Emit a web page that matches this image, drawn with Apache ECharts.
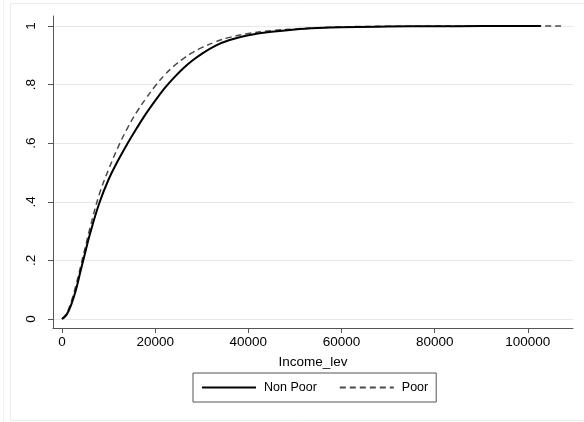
<!DOCTYPE html>
<html>
<head>
<meta charset="utf-8">
<script src="https://cdn.jsdelivr.net/npm/echarts@6/dist/echarts.min.js"></script>
<style>
html,body{margin:0;padding:0;background:#fff;}
#chart{width:584px;height:422px;}
</style>
</head>
<body>
<div id="chart"></div>
<script>
// ---- data ----
var seriesNames = ['Non Poor', 'Poor'];
var incomeNonPoor = [0, 1000, 2000, 3000, 4000, 5000, 6000, 8000, 10000, 12000, 14000, 16000, 18000, 20000, 22000, 24000, 26000, 28000, 30000, 33000, 36000, 40000, 45000, 50000, 55000, 60000, 70000, 80000, 90000, 102800];
var cdfNonPoor    = [0, 0.015, 0.05, 0.10, 0.165, 0.228, 0.29, 0.395, 0.476, 0.54, 0.597, 0.65, 0.70, 0.745, 0.787, 0.823, 0.855, 0.882, 0.905, 0.933, 0.952, 0.968, 0.98, 0.988, 0.993, 0.996, 0.998, 0.999, 0.9995, 1];
var incomePoor    = [0, 1000, 2000, 3000, 4000, 5000, 6000, 8000, 10000, 12000, 14000, 16000, 18000, 20000, 22000, 24000, 26000, 28000, 30000, 33000, 36000, 40000, 45000, 50000, 55000, 60000, 70000, 80000, 90000, 108000];
var cdfPoor       = [0, 0.02, 0.06, 0.115, 0.18, 0.245, 0.31, 0.425, 0.51, 0.585, 0.65, 0.705, 0.752, 0.795, 0.832, 0.863, 0.888, 0.909, 0.926, 0.946, 0.961, 0.974, 0.984, 0.99, 0.994, 0.997, 0.999, 0.9995, 0.9998, 1];
var xTicks = [0, 20000, 40000, 60000, 80000, 100000];
var yTicks = [0, 0.2, 0.4, 0.6, 0.8, 1];
var xTitle = 'Income_lev';

function pairs(xs, ys){ return xs.map(function(x,i){ return [x, ys[i]]; }); }

var FONT = '"Liberation Sans", Arial, Helvetica, sans-serif';
var chart = echarts.init(document.getElementById('chart'), null, {renderer:'canvas'});
chart.setOption({
  animation: false,
  backgroundColor: '#fff',
  textStyle: {fontFamily: FONT},
  graphic: [
    {type:'rect', shape:{x:10.5, y:3.5, width:600, height:417}, style:{fill:'none', stroke:'#ececec', lineWidth:1}, silent:true},
    {type:'line', shape:{x1:3.5, y1:0, x2:3.5, y2:422}, style:{stroke:'#f2f2f2', lineWidth:1}, silent:true}
  ],
  grid: {left: 53, right: 11, top: 16, bottom: 94, containLabel: false},
  xAxis: {
    type: 'value',
    min: -1930, max: 109700,
    name: xTitle, nameLocation: 'middle', nameGap: 27,
    nameTextStyle: {color:'#000', fontSize: 13.5, fontFamily: FONT},
    axisLine: {show:true, onZero:false, lineStyle:{color:'#555', width:1}},
    axisTick: {show:true, length:5, customValues: xTicks, lineStyle:{color:'#555'}},
    axisLabel: {customValues: xTicks, color:'#000', fontSize: 13.5, margin: 7, fontFamily: FONT,
      formatter: function(v){ return String(v); }},
    splitLine: {show:false}
  },
  yAxis: {
    type: 'value',
    min: -0.0307, max: 1.034,
    axisLine: {show:true, onZero:false, lineStyle:{color:'#555', width:1}},
    axisTick: {show:true, length:5, customValues: yTicks, lineStyle:{color:'#555'}},
    axisLabel: {customValues: yTicks, color:'#000', fontSize: 13.5, margin: 15, rotate: 90, fontFamily: FONT,
      formatter: function(v){ if (v === 0) return '0'; if (v === 1) return '1'; return String(+v.toFixed(1)).replace(/^0/, ''); }},
    splitLine: {show:true, lineStyle:{color:'#e8e8e8', width:1}}
  },
  legend: {
    left: 193, top: 373,
    orient: 'horizontal',
    padding: [8, 8, 8, 8],
    itemWidth: 54, itemHeight: 14, itemGap: 22,
    borderColor: '#555', borderWidth: 1,
    itemStyle: {opacity: 0},
    textStyle: {color:'#000', fontSize: 12.5, fontFamily: FONT, padding:[0,0,0,3]},
    data: seriesNames
  },
  series: [
    {
      name: seriesNames[0], type: 'line', showSymbol: false, symbol: 'none',
      smooth: 0.4,
      lineStyle: {color:'#000', width:2, type:'solid'},
      itemStyle: {color:'#000'},
      data: pairs(incomeNonPoor, cdfNonPoor), z: 3
    },
    {
      name: seriesNames[1], type: 'line', showSymbol: false, symbol: 'none',
      smooth: 0.4,
      lineStyle: {color:'#4a4a4a', width:1.5, type:[6,4]},
      itemStyle: {color:'#4a4a4a'},
      data: pairs(incomePoor, cdfPoor), z: 2
    }
  ]
});
</script>
</body>
</html>
